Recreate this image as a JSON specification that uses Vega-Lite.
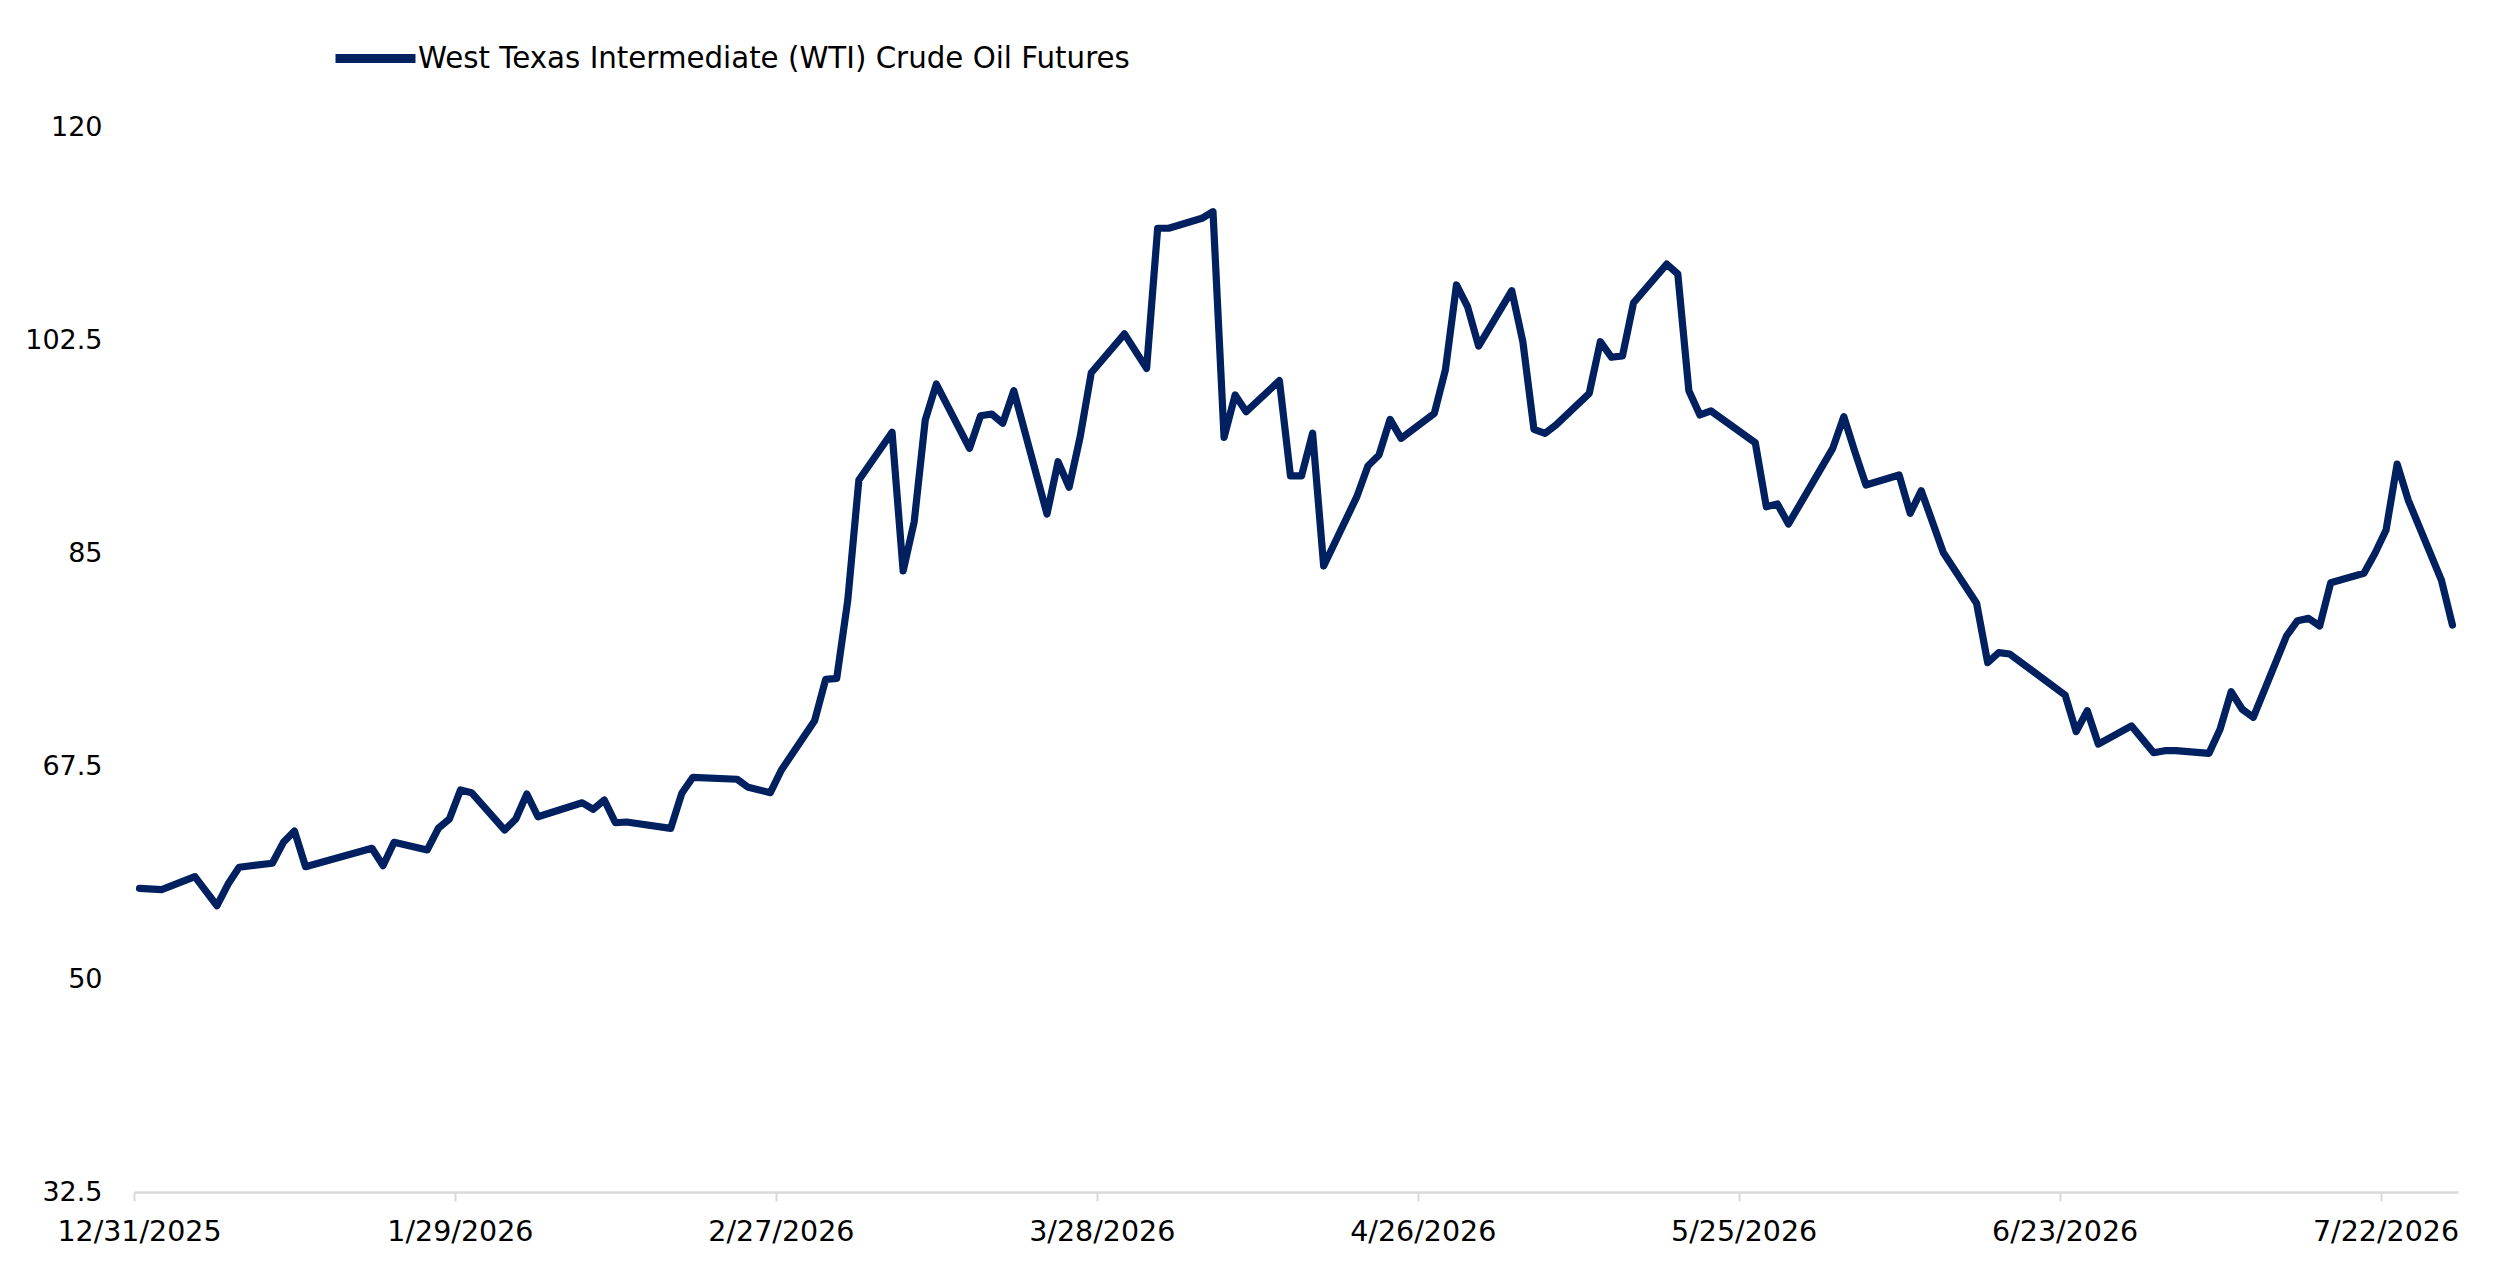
{
  "$schema": "https://vega.github.io/schema/vega-lite/v6.json",
  "description": "WTI crude oil futures, daily settle, 12/31/2025 to 7/28/2026.",
  "width": 2324,
  "height": 1065,
  "autosize": {"type": "none"},
  "padding": {"left": 134, "top": 127, "right": 42, "bottom": 86},
  "background": "white",
  "config": {
    "view": {"stroke": null},
    "font": "DejaVu Sans"
  },
  "data": {
    "values": [
      {"date": "2025-12-31", "price": 57.45},
      {"date": "2026-01-02", "price": 57.34},
      {"date": "2026-01-05", "price": 58.41},
      {"date": "2026-01-07", "price": 56.02},
      {"date": "2026-01-08", "price": 57.8},
      {"date": "2026-01-09", "price": 59.18},
      {"date": "2026-01-12", "price": 59.51},
      {"date": "2026-01-13", "price": 61.23},
      {"date": "2026-01-14", "price": 62.16},
      {"date": "2026-01-15", "price": 59.23},
      {"date": "2026-01-21", "price": 60.74},
      {"date": "2026-01-22", "price": 59.31},
      {"date": "2026-01-23", "price": 61.23},
      {"date": "2026-01-26", "price": 60.6},
      {"date": "2026-01-27", "price": 62.38},
      {"date": "2026-01-28", "price": 63.15},
      {"date": "2026-01-29", "price": 65.53},
      {"date": "2026-01-30", "price": 65.31},
      {"date": "2026-02-02", "price": 62.24},
      {"date": "2026-02-03", "price": 63.15},
      {"date": "2026-02-04", "price": 65.2},
      {"date": "2026-02-05", "price": 63.33},
      {"date": "2026-02-09", "price": 64.48},
      {"date": "2026-02-10", "price": 63.94},
      {"date": "2026-02-11", "price": 64.71},
      {"date": "2026-02-12", "price": 62.84},
      {"date": "2026-02-13", "price": 62.9},
      {"date": "2026-02-17", "price": 62.38},
      {"date": "2026-02-18", "price": 65.26},
      {"date": "2026-02-19", "price": 66.57},
      {"date": "2026-02-23", "price": 66.41},
      {"date": "2026-02-24", "price": 65.75},
      {"date": "2026-02-26", "price": 65.31},
      {"date": "2026-02-27", "price": 67.17},
      {"date": "2026-03-02", "price": 71.22},
      {"date": "2026-03-03", "price": 74.62},
      {"date": "2026-03-04", "price": 74.7},
      {"date": "2026-03-05", "price": 81.14},
      {"date": "2026-03-06", "price": 91.0},
      {"date": "2026-03-09", "price": 94.92},
      {"date": "2026-03-10", "price": 83.52},
      {"date": "2026-03-11", "price": 87.57},
      {"date": "2026-03-12", "price": 95.93},
      {"date": "2026-03-13", "price": 98.88},
      {"date": "2026-03-16", "price": 93.6},
      {"date": "2026-03-17", "price": 96.28},
      {"date": "2026-03-18", "price": 96.42},
      {"date": "2026-03-19", "price": 95.66},
      {"date": "2026-03-20", "price": 98.33},
      {"date": "2026-03-23", "price": 88.2},
      {"date": "2026-03-24", "price": 92.5},
      {"date": "2026-03-25", "price": 90.4},
      {"date": "2026-03-26", "price": 94.56},
      {"date": "2026-03-27", "price": 99.81},
      {"date": "2026-03-30", "price": 103.0},
      {"date": "2026-04-01", "price": 100.17},
      {"date": "2026-04-02", "price": 111.68},
      {"date": "2026-04-03", "price": 111.68},
      {"date": "2026-04-06", "price": 112.5},
      {"date": "2026-04-07", "price": 113.04},
      {"date": "2026-04-08", "price": 94.5},
      {"date": "2026-04-09", "price": 97.98},
      {"date": "2026-04-10", "price": 96.61},
      {"date": "2026-04-13", "price": 99.16},
      {"date": "2026-04-14", "price": 91.33},
      {"date": "2026-04-15", "price": 91.33},
      {"date": "2026-04-16", "price": 94.85},
      {"date": "2026-04-17", "price": 83.93},
      {"date": "2026-04-20", "price": 89.63},
      {"date": "2026-04-21", "price": 92.15},
      {"date": "2026-04-22", "price": 93.05},
      {"date": "2026-04-23", "price": 95.98},
      {"date": "2026-04-24", "price": 94.42},
      {"date": "2026-04-27", "price": 96.48},
      {"date": "2026-04-28", "price": 100.04},
      {"date": "2026-04-29", "price": 107.02},
      {"date": "2026-04-30", "price": 105.24},
      {"date": "2026-05-01", "price": 102.0},
      {"date": "2026-05-04", "price": 106.55},
      {"date": "2026-05-05", "price": 102.36},
      {"date": "2026-05-06", "price": 95.16},
      {"date": "2026-05-07", "price": 94.83},
      {"date": "2026-05-08", "price": 95.52},
      {"date": "2026-05-11", "price": 98.12},
      {"date": "2026-05-12", "price": 102.36},
      {"date": "2026-05-13", "price": 101.08},
      {"date": "2026-05-14", "price": 101.19},
      {"date": "2026-05-15", "price": 105.56},
      {"date": "2026-05-18", "price": 108.74},
      {"date": "2026-05-19", "price": 107.92},
      {"date": "2026-05-20", "price": 98.33},
      {"date": "2026-05-21", "price": 96.34},
      {"date": "2026-05-22", "price": 96.67},
      {"date": "2026-05-26", "price": 94.06},
      {"date": "2026-05-27", "price": 88.8},
      {"date": "2026-05-28", "price": 89.03},
      {"date": "2026-05-29", "price": 87.38},
      {"date": "2026-06-02", "price": 93.6},
      {"date": "2026-06-03", "price": 96.2},
      {"date": "2026-06-04", "price": 93.32},
      {"date": "2026-06-05", "price": 90.59},
      {"date": "2026-06-08", "price": 91.41},
      {"date": "2026-06-09", "price": 88.26},
      {"date": "2026-06-10", "price": 90.12},
      {"date": "2026-06-12", "price": 85.02},
      {"date": "2026-06-15", "price": 80.87},
      {"date": "2026-06-16", "price": 75.99},
      {"date": "2026-06-17", "price": 76.81},
      {"date": "2026-06-18", "price": 76.7},
      {"date": "2026-06-23", "price": 73.33},
      {"date": "2026-06-24", "price": 70.32},
      {"date": "2026-06-25", "price": 72.04},
      {"date": "2026-06-26", "price": 69.3},
      {"date": "2026-06-29", "price": 70.79},
      {"date": "2026-06-30", "price": 69.69},
      {"date": "2026-07-01", "price": 68.59},
      {"date": "2026-07-02", "price": 68.76},
      {"date": "2026-07-03", "price": 68.76},
      {"date": "2026-07-06", "price": 68.54},
      {"date": "2026-07-07", "price": 70.52},
      {"date": "2026-07-08", "price": 73.6},
      {"date": "2026-07-09", "price": 72.16},
      {"date": "2026-07-10", "price": 71.5},
      {"date": "2026-07-13", "price": 78.18},
      {"date": "2026-07-14", "price": 79.44},
      {"date": "2026-07-15", "price": 79.63},
      {"date": "2026-07-16", "price": 79.0},
      {"date": "2026-07-17", "price": 82.56},
      {"date": "2026-07-20", "price": 83.33},
      {"date": "2026-07-21", "price": 84.98},
      {"date": "2026-07-22", "price": 86.89},
      {"date": "2026-07-23", "price": 92.31},
      {"date": "2026-07-24", "price": 89.35},
      {"date": "2026-07-27", "price": 82.78},
      {"date": "2026-07-28", "price": 79.08}
    ]
  },
  "mark": {
    "type": "line",
    "strokeWidth": 7.2,
    "strokeJoin": "round",
    "strokeCap": "round"
  },
  "encoding": {
    "x": {
      "field": "date",
      "type": "temporal",
      "timeUnit": "utcyearmonthdate",
      "bandPosition": 0.5,
      "scale": {
        "type": "utc",
        "nice": false,
        "domain": [
          {"year": 2025, "month": 12, "date": 31, "utc": true},
          {"year": 2026, "month": 7, "date": 29, "utc": true}
        ]
      },
      "axis": {
        "title": null,
        "values": [
          {"year": 2025, "month": 12, "date": 31, "utc": true},
          {"year": 2026, "month": 1, "date": 29, "utc": true},
          {"year": 2026, "month": 2, "date": 27, "utc": true},
          {"year": 2026, "month": 3, "date": 28, "utc": true},
          {"year": 2026, "month": 4, "date": 26, "utc": true},
          {"year": 2026, "month": 5, "date": 25, "utc": true},
          {"year": 2026, "month": 6, "date": 23, "utc": true},
          {"year": 2026, "month": 7, "date": 22, "utc": true}
        ],
        "labelExpr": "utcFormat(datum.value, '%-m/%-d/%Y')",
        "grid": false,
        "domainColor": "#d9d9d9",
        "domainWidth": 2.5,
        "tickColor": "#d9d9d9",
        "tickWidth": 2,
        "tickSize": 9,
        "labelFontSize": 28.5,
        "labelColor": "#000000",
        "labelPadding": 16,
        "labelOffset": 5,
        "labelFlush": false,
        "labelOverlap": false,
        "labelLimit": 400
      }
    },
    "y": {
      "field": "price",
      "type": "quantitative",
      "scale": {"domain": [32.5, 120], "nice": false, "zero": false},
      "axis": {
        "title": null,
        "values": [32.5, 50, 67.5, 85, 102.5, 120],
        "format": ".1~f",
        "grid": false,
        "domain": false,
        "ticks": false,
        "tickSize": 0,
        "labelPadding": 32,
        "labelFontSize": 27,
        "labelColor": "#000000",
        "labelOverlap": false
      }
    },
    "color": {
      "datum": "West Texas Intermediate (WTI) Crude Oil Futures",
      "type": "nominal",
      "scale": {"range": ["#002060"]},
      "legend": {
        "title": null,
        "orient": "none",
        "legendX": 197,
        "legendY": -113,
        "padding": 0,
        "symbolType": "stroke",
        "symbolSize": 6400,
        "symbolStrokeWidth": 9,
        "labelFontSize": 29.3,
        "labelColor": "#000000",
        "labelOffset": -2,
        "labelLimit": 1200
      }
    }
  }
}
